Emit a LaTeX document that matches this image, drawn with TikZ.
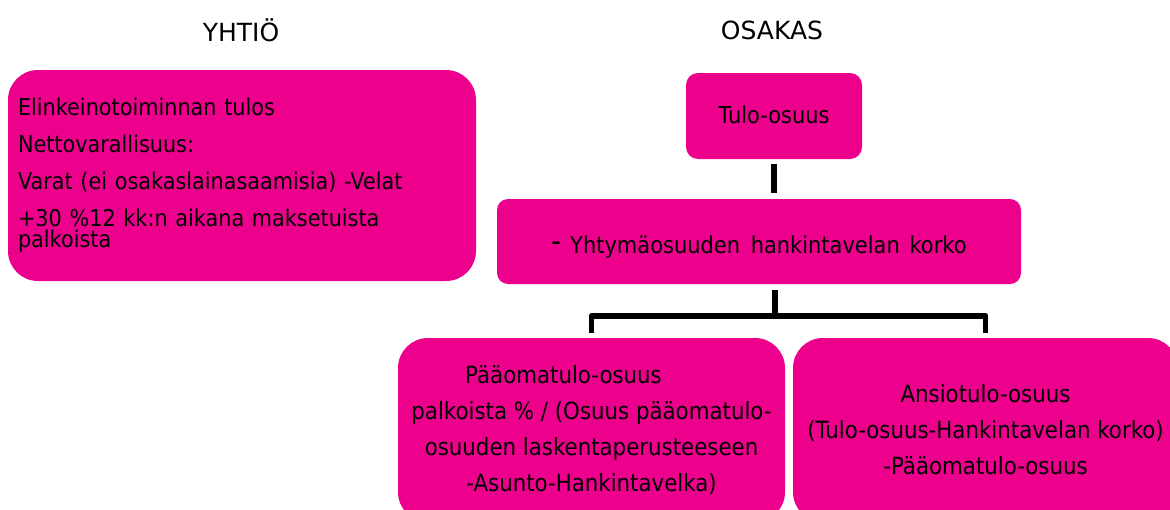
\documentclass[tikz,border=0pt]{standalone}
\usepackage{fontspec}
\setmainfont{DejaVu Sans}
\newfontfamily\tfont[FakeStretch=0.9]{DejaVu Sans}
\definecolor{mag}{RGB}{236,0,140}
\begin{document}
\begin{tikzpicture}[x=1pt,y=-1pt,
  box/.style={fill=mag, draw=none, inner sep=0pt},
  title/.style={font=\fontsize{25}{28}\selectfont},
  conn/.style={line width=5.7pt, draw=black, line join=round}]
\clip (0,0) rectangle (1170,509);
\node[title] (t1) at (241,30) {YHTIÖ};
\node[title] (t2) at (772,30) {OSAKAS};
\node[box, rounded corners=30pt, minimum width=468pt, minimum height=211pt,
      text width=448pt, align=left, font=\tfont\fontsize{23.1}{21}\selectfont]
  (yhtio) at (242,175.5)
  {Elinkeinotoiminnan tulos\\[16pt]Nettovarallisuus:\\[16pt]Varat (ei osakaslainasaamisia) -Velat\\[16pt]+30 \%12 kk:n aikana maksetuista\\palkoista};
\node[box, rounded corners=12pt, minimum width=176pt, minimum height=86pt,
      text height=14.6pt, text depth=0pt,
      font=\tfont\fontsize{23.3}{25}\selectfont] (tulo) at (774,116) {Tulo-osuus};
\node[box, rounded corners=11pt, minimum width=524pt, minimum height=85pt,
      text height=23pt, text depth=0pt,
      font=\tfont\fontsize{23.3}{25}\selectfont] (mid) at (759,241.5)
  {{\fontsize{30}{30}\selectfont\raisebox{2pt}{-}}\hspace{9pt}Yhtymäosuuden\hspace{4pt} hankintavelan\hspace{3pt} korko};
\node[box, rounded corners=30pt, minimum width=387pt, minimum height=184pt,
      align=center, font=\tfont\fontsize{23.7}{36}\selectfont] (paa) at (591.5,430)
  {\hbox{Pääomatulo-osuus\kern56pt}\\palkoista \% / (Osuus pääomatulo-\\osuuden laskentaperusteeseen\\-Asunto-Hankintavelka)};
\node[box, rounded corners=30pt, minimum width=385pt, minimum height=184pt,
      align=center, font=\tfont\fontsize{23.7}{36}\selectfont] (ans) at (985.5,430)
  {Ansiotulo-osuus\\(Tulo-osuus-Hankintavelan korko)\\-Pääomatulo-osuus};
\coordinate (j) at (775,316);
\draw[conn, shorten <=5pt, shorten >=6pt] (tulo.south) -- (tulo.south |- mid.north);
\draw[conn, shorten <=6pt] (j |- mid.south) -- (j);
\draw[conn, shorten <=5pt, shorten >=5pt] (paa.north) |- (j) -| (ans.north);
\end{tikzpicture}
\end{document}
